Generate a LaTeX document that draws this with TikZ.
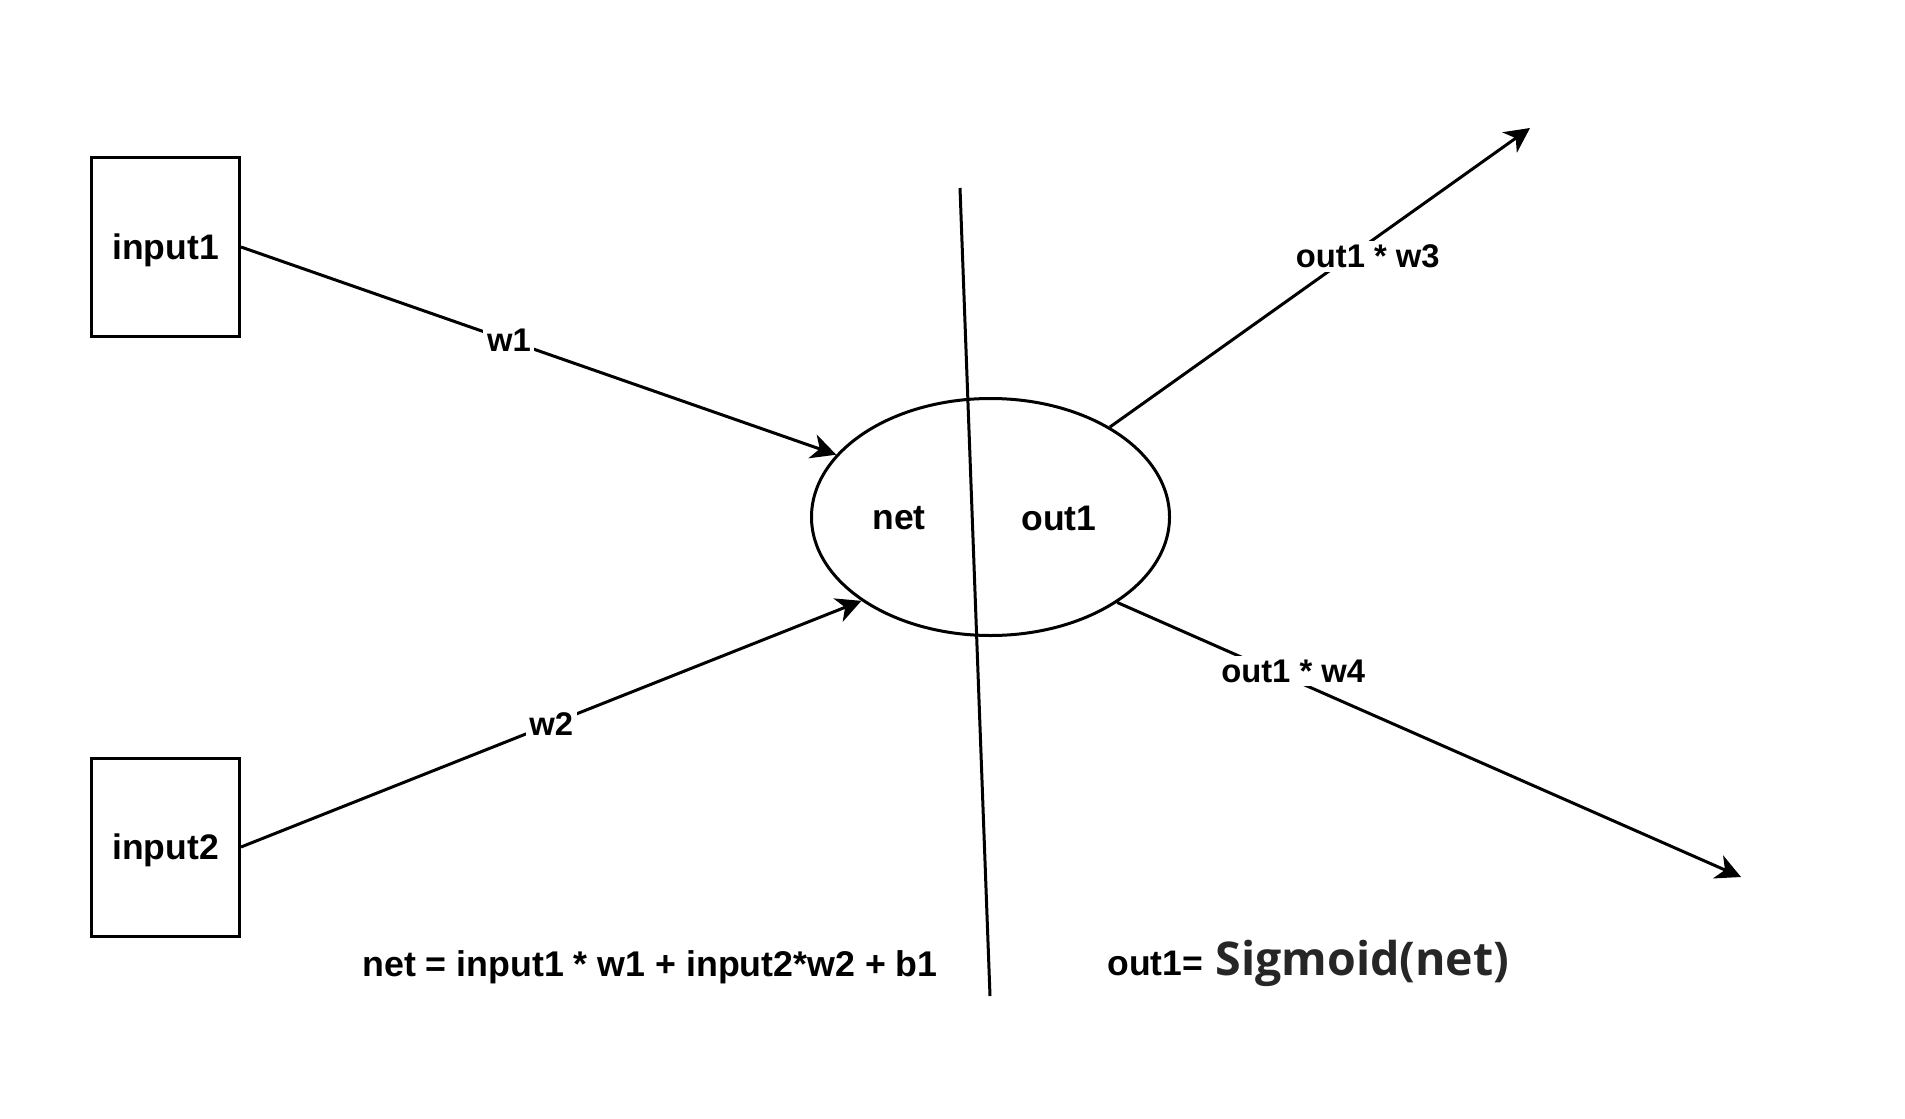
\documentclass[tikz,border=0pt]{standalone}
\usepackage{fontspec}
\setmainfont{Liberation Sans}
\newfontfamily\sigfont{Open Sans}
\usetikzlibrary{arrows.meta,shapes.geometric}
\begin{document}
\begin{tikzpicture}[x=0.4pt,y=-0.4pt,
  every node/.style={font=\bfseries\fontsize{14.2}{17}\selectfont},
  box/.style={draw,line width=1.2pt,minimum width=59.2pt,minimum height=71.2pt,inner sep=0pt,text depth=0pt},
  cell/.style={draw,ellipse,line width=1.2pt,minimum width=143.2pt,minimum height=94.8pt,inner sep=0pt},
  conn/.style={line width=1.2pt,-{Stealth[length=10pt,width=10pt,inset=3pt]}},
  plain/.style={line width=1.2pt},
  lbl/.style={fill=white,inner sep=1.5pt,font=\bfseries\fontsize{13.1}{15}\selectfont}]
\useasboundingbox (0,0) rectangle (1905,1119);
\node[box] (in1) at (165.5,247) {input1};
\node[box] (in2) at (165.5,847) {input2};
\node[cell] (ell) at (990.5,517) {};
\node (net) at (899,518) {net};
\node (out) at (1059,518) {out1};
\coordinate (vtop) at (960,188);
\coordinate (vbot) at (990,996);
\coordinate (o3) at (1530,128);
\coordinate (o4) at (1741,877);
\draw[plain] (vtop) -- (vbot);
\draw[conn] (in1.east) -- node[lbl,pos=0.45] {w1} (ell.158);
\draw[conn] (in2.east) -- node[lbl,pos=0.5] {w2} (ell.213);
\draw[conn] (ell.37) -- node[lbl,pos=0.571,xshift=7.2pt] {out1 * w3} (o3);
\draw[conn] (ell.-34) -- node[lbl,pos=0.25,xshift=8pt] {out1 * w4} (o4);
\node[font=\bfseries\fontsize{14.3}{17}\selectfont] (eq1) at (650,967) {net = input1 * w1 + input2*w2 + b1};
\node[anchor=base west,inner sep=0pt] (eq2a) at (1107,975) {out1=};
\node[anchor=base west,inner sep=0pt,font=\sigfont\bfseries\fontsize{18.6}{22}\selectfont,text=black!85] (eq2b) at (1215,975) {Sigmoid(net)};
\end{tikzpicture}
\end{document}
